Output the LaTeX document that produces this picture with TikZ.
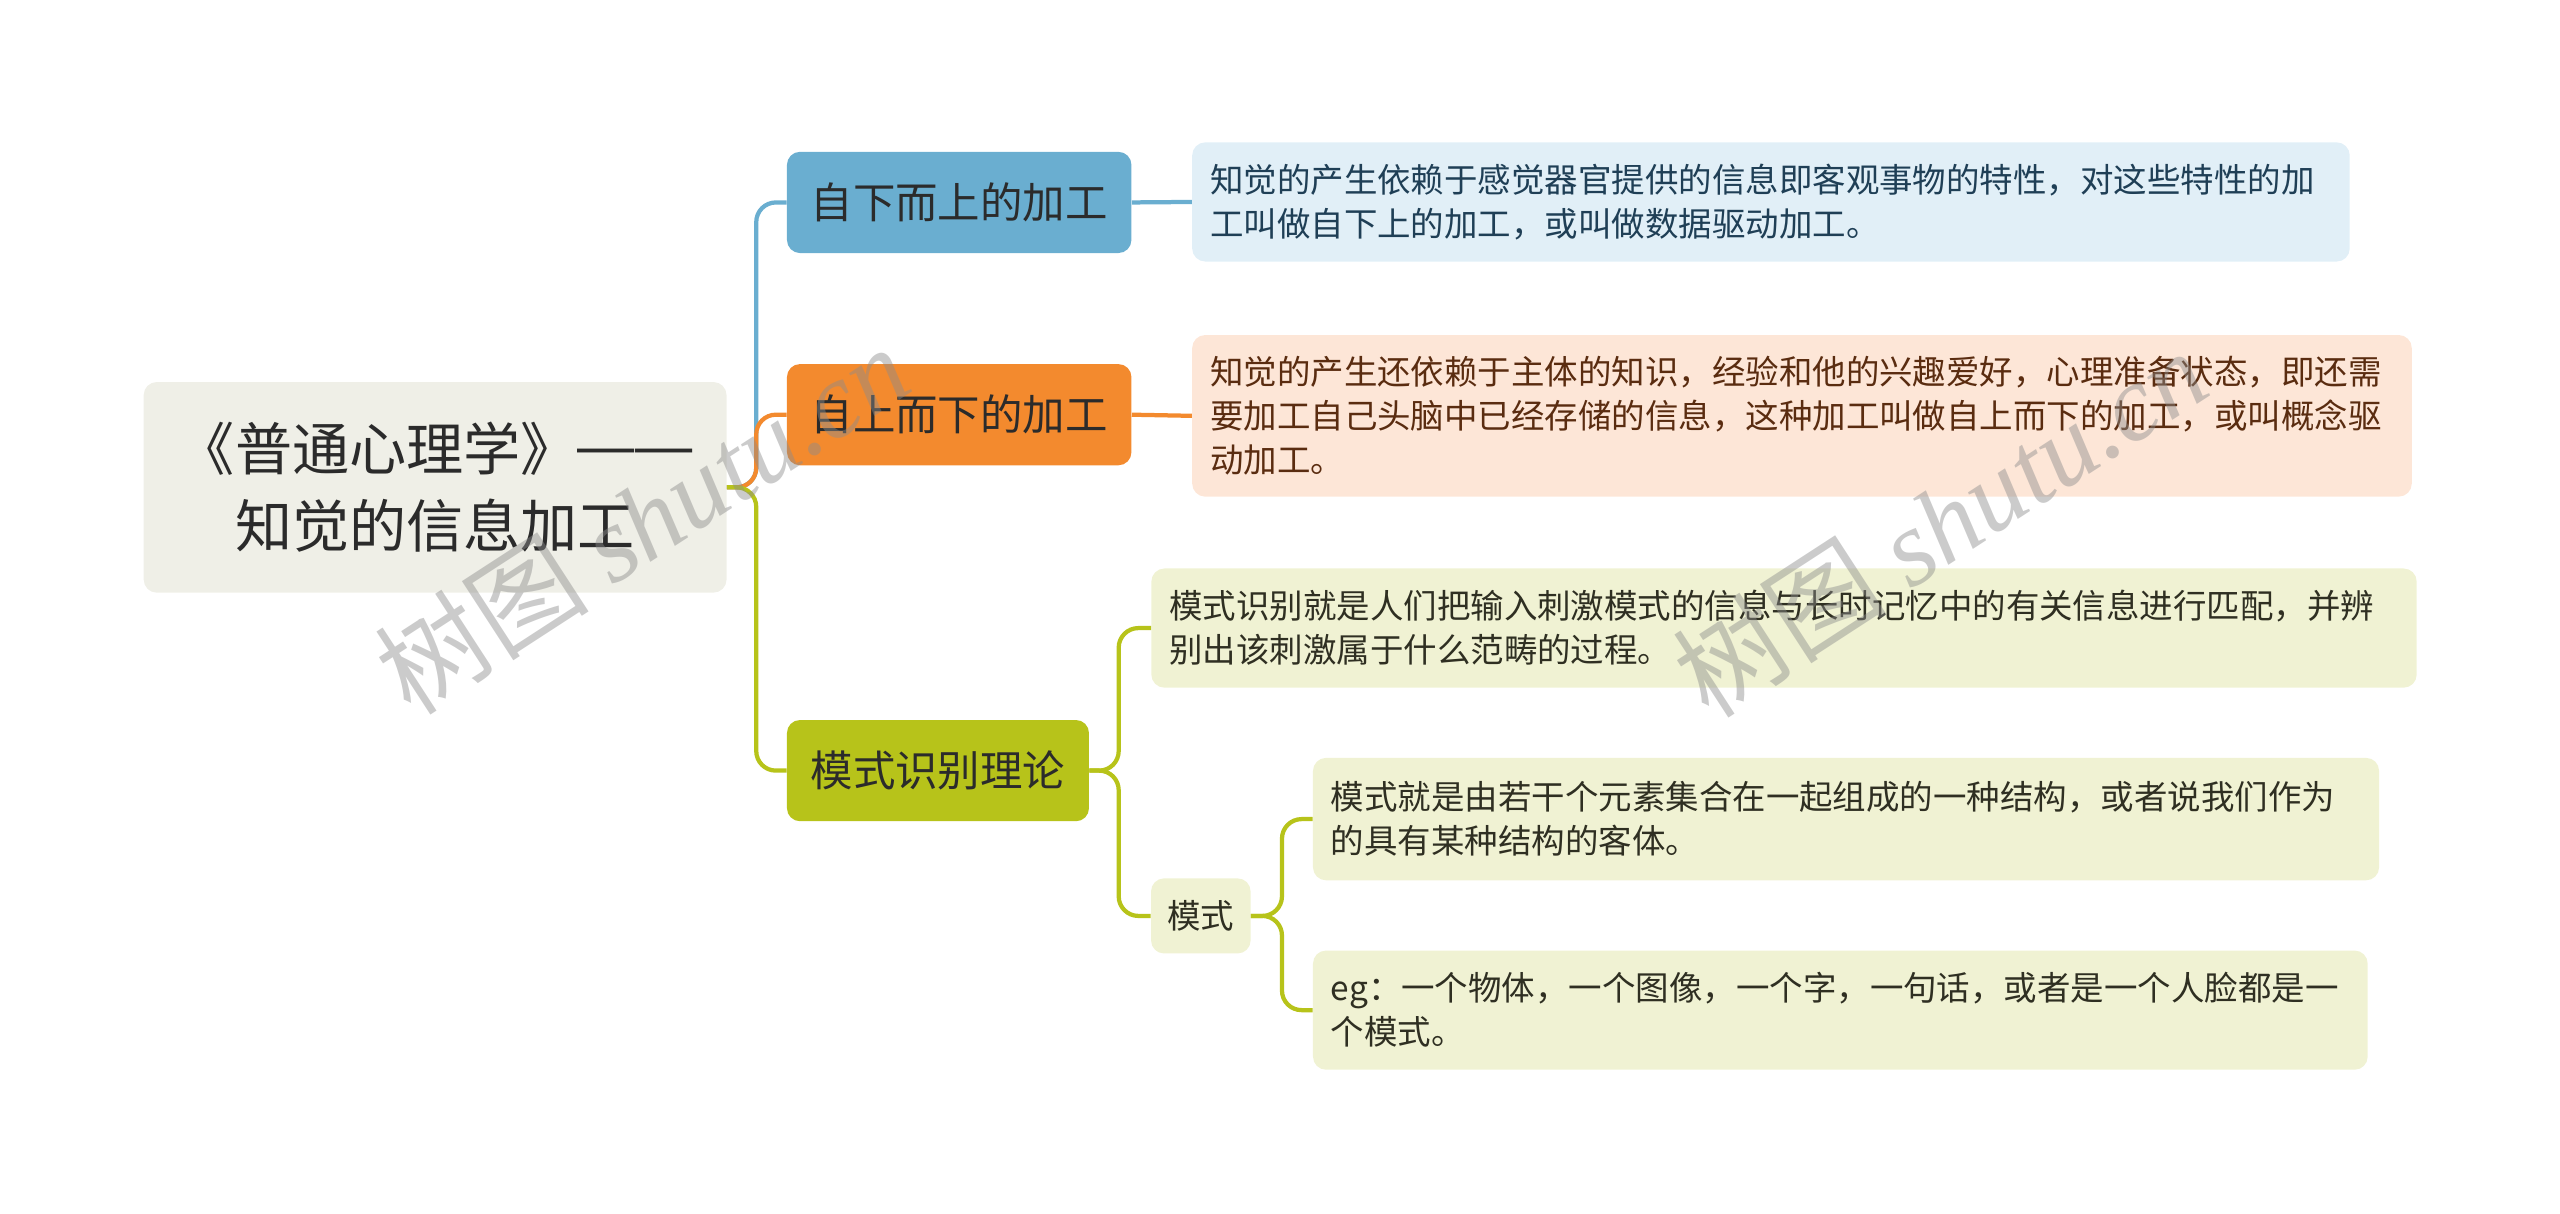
\documentclass[tikz,border=0pt]{standalone}
\usepackage{fontspec}
\setmainfont{Noto Sans CJK SC}
\newfontfamily\wmlatin{Liberation Serif}
\newfontfamily\dashfont{Liberation Sans}
\usetikzlibrary{calc}
\definecolor{rootfill}{HTML}{EFEFE7}
\definecolor{bluec}{HTML}{6AAED0}
\definecolor{orangec}{HTML}{F38A2E}
\definecolor{olivec}{HTML}{B7C31A}
\definecolor{bluel}{HTML}{E1EFF7}
\definecolor{orangel}{HTML}{FDE6D7}
\definecolor{olivel}{HTML}{F0F2D3}
\definecolor{bluet}{HTML}{1F3F56}
\definecolor{oranget}{HTML}{5A2C10}
\definecolor{olivet}{HTML}{2F2F22}
\definecolor{darkt}{HTML}{2B2B2B}
\tikzset{
  box/.style={rectangle, rounded corners=8pt, inner sep=0pt, draw=none},
  rootbox/.style={box, fill=rootfill, text=darkt, minimum width=357pt, minimum height=129pt,
    align=center, font=\fontsize{35}{47}\selectfont},
  mainbox/.style={box, minimum height=62pt, text=darkt, font=\fontsize{26}{32}\selectfont},
  leaf/.style={box, anchor=north west, align=left, inner xsep=11pt,
    font=\fontsize{20.5}{27}\selectfont},
  conn/.style={line width=2.6pt, rounded corners=12pt},
  wm/.style={text=black!45, text opacity=0.45, rotate=33, font=\fontsize{66}{70}\selectfont},
}
\begin{document}
\begin{tikzpicture}[x=1pt,y=-1pt]
\useasboundingbox (0,0) rectangle (1568,743);
% nodes
\node[rootbox] (root) at (266.5,298.5) {《普通心理学》\raisebox{0.09em}{\dashfont ——}\\知觉的信息加工};
\node[mainbox, fill=bluec, minimum width=211pt] (n1) at (587.5,124) {自下而上的加工};
\node[mainbox, fill=orangec, minimum width=211pt] (n2) at (587.5,254) {自上而下的加工};
\node[mainbox, fill=olivec, minimum width=185pt] (n3) at (574.5,472) {模式识别理论};
\node[box, fill=olivel, text=olivet, minimum width=61pt, minimum height=46pt,
  font=\fontsize{20.5}{27}\selectfont] (mo) at (735.5,561) {模式};
\node[leaf, fill=bluel, text=bluet, text width=687pt, minimum height=73pt] (l1) at (730,87)
  {知觉的产生依赖于感觉器官提供的信息即客观事物的特性，对这些特性的加\\工叫做自下上的加工，或叫做数据驱动加工。};
\node[leaf, fill=orangel, text=oranget, text width=725pt, minimum height=99pt] (l2) at (730,205)
  {知觉的产生还依赖于主体的知识，经验和他的兴趣爱好，心理准备状态，即还需\\要加工自己头脑中已经存储的信息，这种加工叫做自上而下的加工，或叫概念驱\\动加工。};
\node[leaf, fill=olivel, text=olivet, text width=753pt, minimum height=73pt] (l3) at (705,348)
  {模式识别就是人们把输入刺激模式的信息与长时记忆中的有关信息进行匹配，并辨\\别出该刺激属于什么范畴的过程。};
\node[leaf, fill=olivel, text=olivet, text width=631pt, minimum height=75pt] (l4) at (804,464)
  {模式就是由若干个元素集合在一起组成的一种结构，或者说我们作为\\的具有某种结构的客体。};
\node[leaf, fill=olivel, text=olivet, text width=624pt, minimum height=73pt] (l5) at (804,582)
  {eg：一个物体，一个图像，一个字，一句话，或者是一个人脸都是一\\个模式。};
% connectors
\draw[conn, bluec] (root.east) -- ++(18,0) |- (n1.west);
\draw[conn, orangec] (root.east) -- ++(18,0) |- (n2.west);
\draw[conn, olivec] (root.east) -- ++(18,0) |- (n3.west);
\draw[conn, bluec] (n1.east) -- (l1.west);
\draw[conn, orangec] (n2.east) -- (l2.west);
\draw[conn, olivec] (n3.east) -- ++(18,0) |- (l3.west);
\draw[conn, olivec] (n3.east) -- ++(18,0) |- (mo.west);
\draw[conn, olivec] (mo.east) -- ++(19,0) |- (l4.west);
\draw[conn, olivec] (mo.east) -- ++(19,0) |- (l5.west);
% watermarks
\node[wm] (wm1) at (393,318) {树图 {\wmlatin\itshape shutu.cn}};
\node[wm] (wm2) at (1188,320) {树图 {\wmlatin\itshape shutu.cn}};
\end{tikzpicture}
\end{document}
